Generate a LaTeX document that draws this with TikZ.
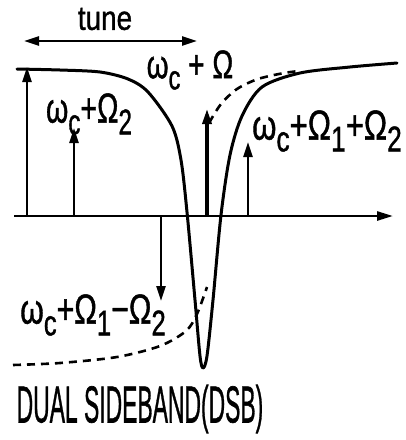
\documentclass[tikz,border=0pt]{standalone}
\usepackage{fontspec}
\setmainfont{Liberation Sans}
\newfontfamily\heavy[FakeBold=1.2]{Liberation Sans}
\usetikzlibrary{arrows.meta}
\newcommand\lo[1]{\raisebox{-0.28em}{\scalebox{0.85}{#1}}}
\tikzset{
  lab/.style={inner sep=0pt, font=\heavy\fontsize{42}{42}\selectfont},
  sig/.style={line width=2.4pt, -{Triangle[length=15pt,width=9pt]}},
  curve/.style={line width=3pt, line join=round, line cap=round},
  dcurve/.style={line width=2.6pt, dash pattern=on 8pt off 6pt},
}
\begin{document}
\begin{tikzpicture}[x=1pt,y=-1pt]
\useasboundingbox (0,0) rectangle (406,440);
% coordinates
\coordinate (axL) at (14,216);
\coordinate (axR) at (393,216);
\coordinate (tL) at (24,41);
\coordinate (tR) at (197,41);
\coordinate (a0b) at (27,216); \coordinate (a0t) at (27,67);
\coordinate (a1b) at (74,216); \coordinate (a1t) at (74,128);
\coordinate (a2b) at (207,216); \coordinate (a2t) at (207,109);
\coordinate (a3b) at (248,216); \coordinate (a3t) at (248,142);
\coordinate (a4b) at (161,216); \coordinate (a4t) at (161,301);
% axis
\draw[line width=2.6pt, -{Triangle[length=16pt,width=9pt]}] (axL) -- (axR);
% tune
\draw[line width=2.4pt, {Triangle[length=15pt,width=9pt]}-{Triangle[length=15pt,width=9pt]}] (tL) -- (tR);
\node[lab, font=\heavy\fontsize{34}{34}\selectfont] (tune) at (105,19) {\scalebox{0.82}[1]{tune}};
% solid response curve
\draw[curve] plot[smooth, tension=0.5] coordinates {(17,69) (60,70) (100,72) (128,79) (148,92) (172,126) (181,160) (187,212) (195,300) (200,356) (203,368) (207,356) (213,300) (221,215) (230,155) (242,116) (262,87) (300,73) (350,67) (397,63)};
% dashed curves
\draw[dcurve] plot[smooth] coordinates {(209,123) (221,104) (237,89) (258,79) (284,73) (300,71)};
\draw[dcurve] plot[smooth] coordinates {(13,365) (60,363) (117,357) (160,346) (186,331) (197,314) (207,287)};
% signal arrows
\draw[sig] (a0b) -- (a0t);
\draw[sig] (a1b) -- (a1t);
\draw[sig, line width=3.2pt] (a2b) -- (a2t);
\draw[sig] (a3b) -- (a3t);
\draw[sig] (a4b) -- (a4t);
% labels
\node[lab] (l1) at (89,114) {\scalebox{0.68}[1]{ω\lo{c}+Ω\lo{2}}};
\node[lab, font=\heavy\fontsize{40}{40}\selectfont] (l2) at (190,70) {\scalebox{0.70}[1]{ω\lo{c} + Ω}};
\node[lab] (l3) at (327,131) {\scalebox{0.74}[1]{ω\lo{c}+Ω\lo{1}+Ω\lo{2}}};
\node[lab] (l4) at (93,315) {\scalebox{0.72}[1]{ω\lo{c}+Ω\lo{1}−Ω\lo{2}}};
\node[lab, font=\heavy\fontsize{52}{52}\selectfont] (dsb) at (140,409) {\scalebox{0.44}[1]{DUAL SIDEBAND(DSB)}};
\end{tikzpicture}
\end{document}
